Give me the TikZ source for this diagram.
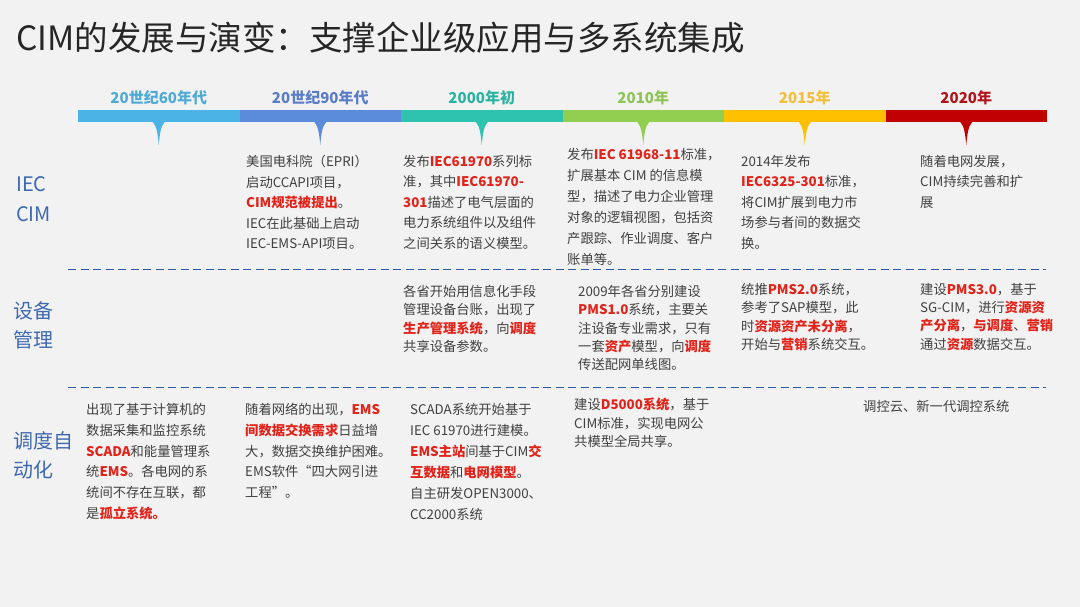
\documentclass[tikz,border=0pt]{standalone}
\usepackage{fontspec}
\setmainfont{Noto Sans CJK SC}
\usetikzlibrary{positioning}
\definecolor{cimbg}{HTML}{F2F2F2}
\definecolor{cimtitle}{HTML}{262626}
\definecolor{cimtext}{HTML}{404040}
\definecolor{cimred}{HTML}{E2231A}
\definecolor{cimrow}{HTML}{3E69B0}
\definecolor{cimdash}{HTML}{2E5AAC}
\definecolor{segA}{HTML}{4BB3E6}
\definecolor{segB}{HTML}{5B8BDB}
\definecolor{segC}{HTML}{2DC3AE}
\definecolor{segD}{HTML}{92CF50}
\definecolor{segE}{HTML}{FFC000}
\definecolor{segF}{HTML}{C00000}
\definecolor{labA}{HTML}{4FAAD6}
\definecolor{labB}{HTML}{5B7DC6}
\definecolor{labC}{HTML}{2BB3A2}
\definecolor{labD}{HTML}{8DC455}
\definecolor{labE}{HTML}{F3BE3B}
\definecolor{labF}{HTML}{B0141A}
\newcommand{\cimhl}[1]{{\bfseries\color{cimred}#1}}
\tikzset{
  every picture/.append style={line cap=round,line join=round},
  cim title/.style={anchor=west,inner sep=0,text=cimtitle,font=\fontsize{33.5}{38}\selectfont},
  cim year/.style={inner sep=0,font=\bfseries\fontsize{15}{18}\selectfont},
  cim row/.style={anchor=north west,inner sep=0,align=left,text=cimrow,font=\fontsize{20}{29}\selectfont},
  cim body/.style={anchor=north west,inner sep=0,align=left,text=cimtext,font=\fontsize{13.3}{20.5}\selectfont},
  cim tight/.style={cim body,font=\fontsize{13.3}{18.3}\selectfont},
  cim divider/.style={cimdash,line width=1.8pt,line cap=butt,dash pattern=on 8pt off 4.5pt}
}

\begin{document}
\begin{tikzpicture}[x=1pt,y=-1pt]
  \useasboundingbox (0,0) rectangle (1080,607);
  \fill[cimbg] (0,0) rectangle (1080,607);
  \node[cim title] (title) at (16,38) {CIM的发展与演变：支撑企业级应用与多系统集成};

  % timeline bar with pointers
  \foreach \i/\segcol/\labcol/\yeartext in {0/segA/labA/20世纪60年代,1/segB/labB/20世纪90年代,2/segC/labC/2000年初,3/segD/labD/2010年,4/segE/labE/2015年,5/segF/labF/2020年} {
    \pgfmathsetmacro{\cx}{158.75+161.5*\i}
    \fill[\segcol] ({78+161.5*\i},110) rectangle ++(161.5,12.5);
    \fill[\segcol] ({\cx-6},122) .. controls ({\cx-2},126) and ({\cx-1},134) .. (\cx,145) .. controls ({\cx+1},134) and ({\cx+2},126) .. ({\cx+6},122) -- cycle;
    \node[cim year,text=\labcol] (year\i) at (\cx,98) {\yeartext};
  }

  % row labels
  \node[cim row,font=\fontsize{20}{30}\selectfont] (rowiec) at (16,176) {IEC\\CIM};
  \node[cim row] (rowpms) at (13,301) {设备\\管理};
  \node[cim row] (rowems) at (13,431) {调度自\\动化};

  % dividers
  \coordinate (divAl) at (68,269.5);
  \coordinate (divAr) at (1046,269.5);
  \coordinate (divBl) at (68,387.5);
  \coordinate (divBr) at (1046,387.5);
  \draw[cim divider] (divAl) -- (divAr);
  \draw[cim divider] (divBl) -- (divBr);

  % IEC CIM
  \node[cim body] (iec90) at (246,155) {美国电科院（EPRI）\\启动CCAPI项目，\\\cimhl{CIM规范被提出}。\\IEC在此基础上启动\\IEC-EMS-API项目。};
  \node[cim body] (iec00) at (403,155) {发布\cimhl{IEC61970}系列标\\准，其中\cimhl{IEC61970-}\\\cimhl{301}描述了电气层面的\\电力系统组件以及组件\\之间关系的语义模型。};
  \node[cim body,font=\fontsize{13.3}{21}\selectfont] (iec10) at (567,148) {发布\cimhl{IEC 61968-11}标准，\\扩展基本 CIM 的信息模\\型，描述了电力企业管理\\对象的逻辑视图，包括资\\产跟踪、作业调度、客户\\账单等。};
  \node[cim body] (iec15) at (741,155) {2014年发布\\\cimhl{IEC6325-301}标准，\\将CIM扩展到电力市\\场参与者间的数据交\\换。};
  \node[cim body] (iec20) at (920,155) {随着电网发展，\\CIM持续完善和扩\\展};

  % equipment management
  \node[cim tight] (pms00) at (403,285) {各省开始用信息化手段\\管理设备台账，出现了\\\cimhl{生产管理系统}，向\cimhl{调度}\\共享设备参数。};
  \node[cim tight] (pms10) at (578,285) {2009年各省分别建设\\\cimhl{PMS1.0}系统，主要关\\注设备专业需求，只有\\一套\cimhl{资产}模型，向\cimhl{调度}\\传送配网单线图。};
  \node[cim tight] (pms15) at (741,283) {统推\cimhl{PMS2.0}系统，\\参考了SAP模型，此\\时\cimhl{资源资产未分离}，\\开始与\cimhl{营销}系统交互。};
  \node[cim tight] (pms20) at (920,283) {建设\cimhl{PMS3.0}，基于\\SG-CIM，进行\cimhl{资源资}\\\cimhl{产分离}，\cimhl{与调度}、\cimhl{营销}\\通过\cimhl{资源}数据交互。};

  % dispatch automation
  \node[cim body,font=\fontsize{13.3}{20.8}\selectfont] (ems60) at (86,403) {出现了基于计算机的\\数据采集和监控系统\\\cimhl{SCADA}和能量管理系\\统\cimhl{EMS}。各电网的系\\统间不存在互联，都\\是\cimhl{孤立系统。}};
  \node[cim body,font=\fontsize{13.3}{20.8}\selectfont] (ems90) at (245,403) {随着网络的出现，\cimhl{EMS}\\\cimhl{间数据交换需求}日益增\\大，数据交换维护困难。\\EMS软件“四大网引进\\工程”。};
  \node[cim body,font=\fontsize{13.3}{21}\selectfont] (ems00) at (410,403) {SCADA系统开始基于\\IEC 61970进行建模。\\\cimhl{EMS主站}间基于CIM\cimhl{交}\\\cimhl{互数据}和\cimhl{电网模型}。\\自主研发OPEN3000、\\CC2000系统};
  \node[cim tight] (ems10) at (574,398) {建设\cimhl{D5000系统}，基于\\CIM标准，实现电网公\\共模型全局共享。};
  \node[cim body] (ems20) at (863,400) {调控云、新一代调控系统};
\end{tikzpicture}
\end{document}
